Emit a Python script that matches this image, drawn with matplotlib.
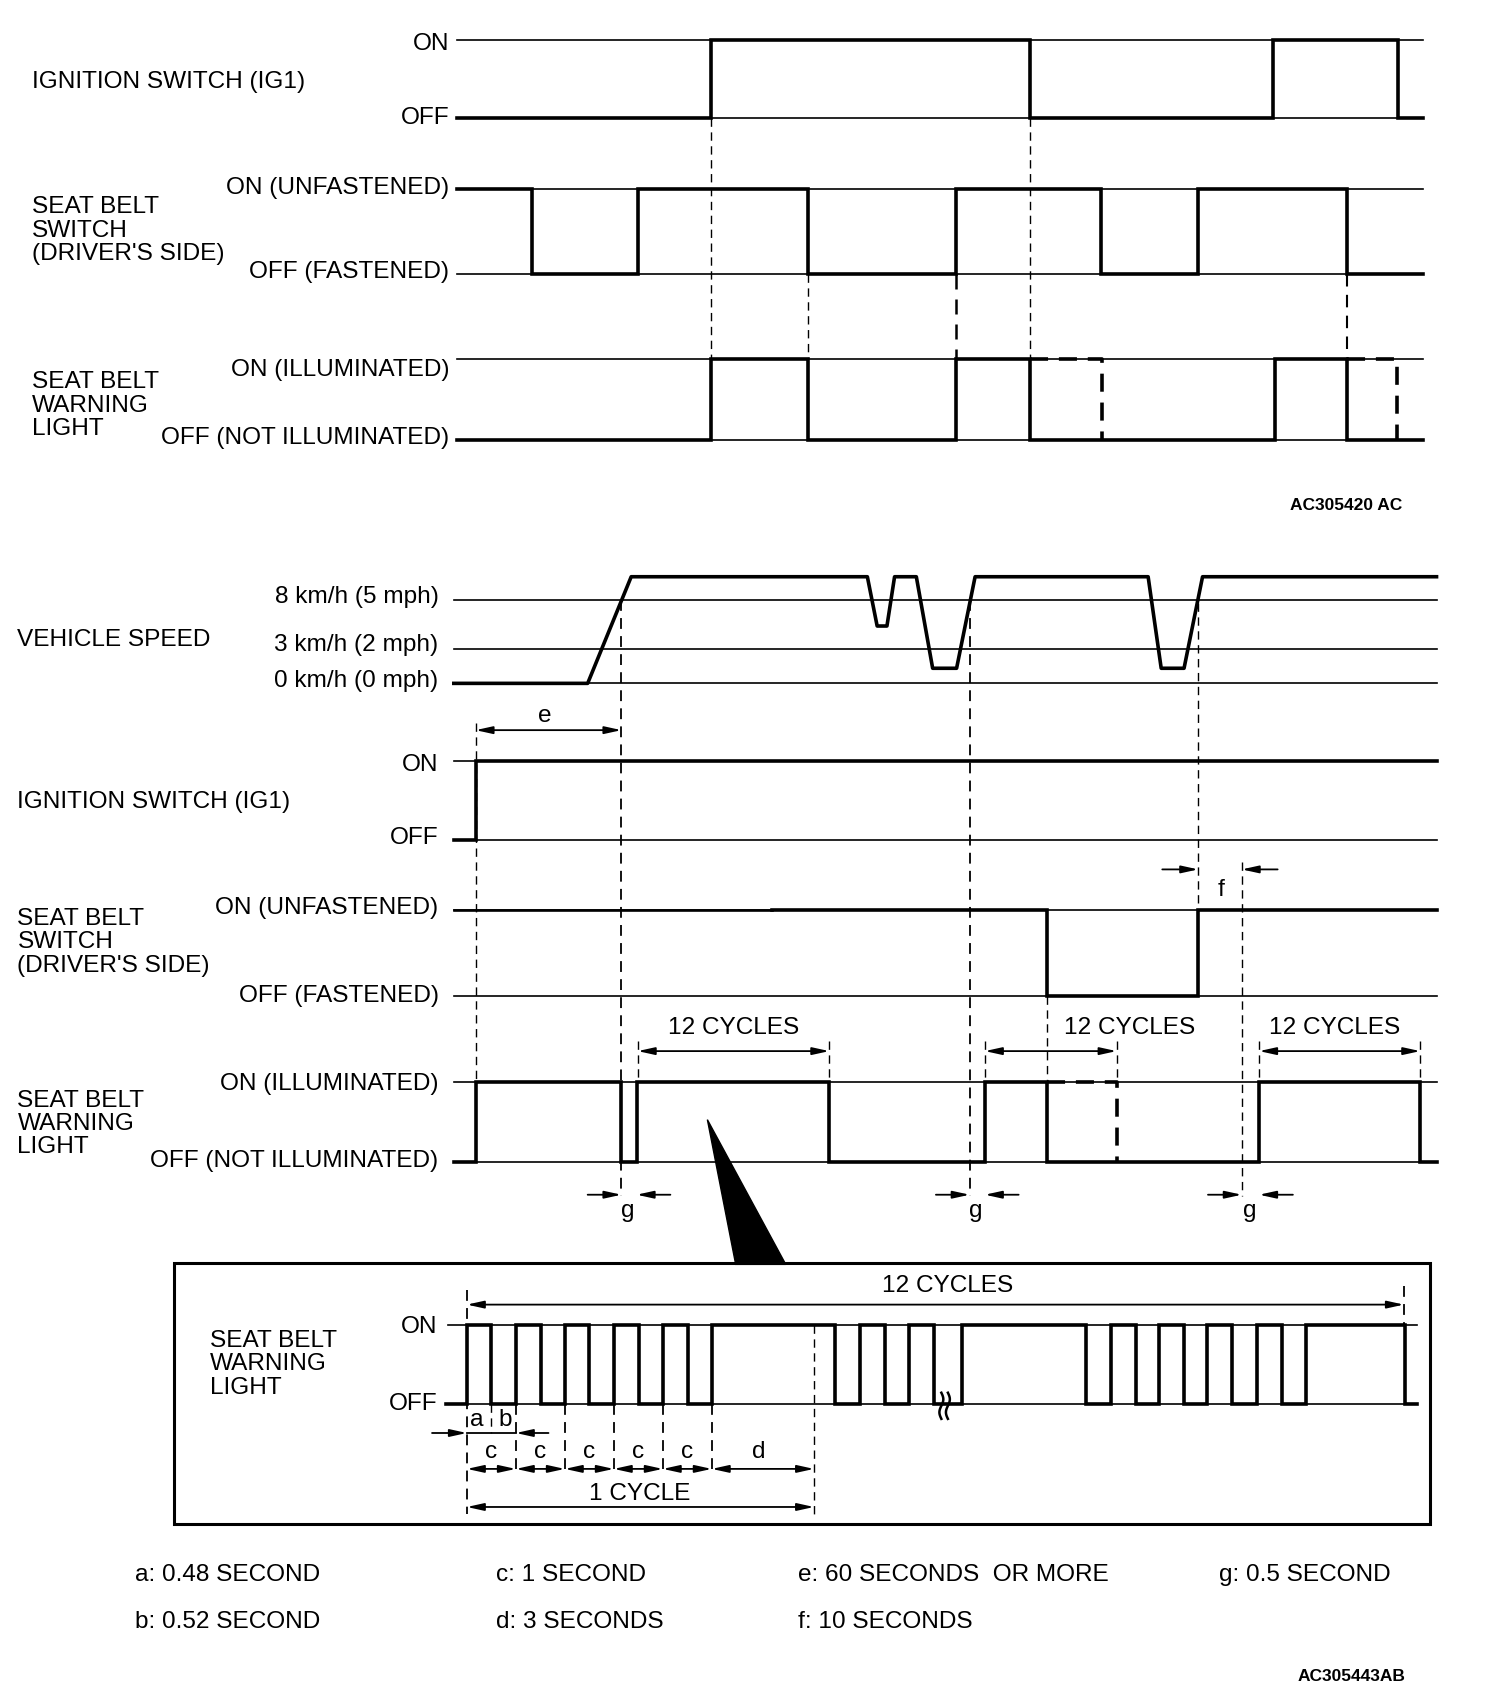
import numpy as np
import matplotlib.pyplot as plt
from matplotlib.patches import Polygon, Rectangle

# ---- data: transition times (drawing units along the time axis) and states (1 = ON)
# upper diagram
top_ign_t = [420, 653, 946, 1170, 1285, 1308]
top_ign_s = [0, 1, 0, 1, 0]
top_belt_t = [420, 489, 586, 742, 878, 1012, 1101, 1238, 1308]
top_belt_s = [1, 0, 1, 0, 1, 0, 1, 0]
top_lamp_t = [420, 653, 742, 878, 946, 1172, 1238, 1308]
top_lamp_s = [0, 1, 0, 1, 0, 1, 0]
top_lamp_dashed = [(946, 1013), (1238, 1284)]

# lower diagram
speed_t = [417, 540, 580, 797, 806, 815, 822, 842, 857, 879, 896, 1055, 1067, 1088, 1105, 1320]
speed_kmh = [0, 0, 10.3, 10.3, 5.3, 5.3, 10.3, 10.3, 1.3, 1.3, 10.3, 10.3, 1.3, 1.3, 10.3, 10.3]
speed_ticks = [0, 3, 8, 10.3]
bot_ign_t = [417, 437, 1320]
bot_ign_s = [0, 1]
bot_belt_t = [709, 962, 1101, 1320]
bot_belt_s = [1, 0, 1]
bot_lamp_t = [417, 437, 571, 585, 762, 905, 962, 1157, 1305, 1320]
bot_lamp_s = [0, 1, 0, 1, 0, 1, 0, 1, 0]
bot_lamp_dashed = [(962, 1026)]
cycles12 = [(586, 762), (905, 1026), (1157, 1305)]
cycles12_label_x = [674, 1038, 1226]
g_marks = [(571, 585), (891, 905), (1141, 1157)]

# enlarged pulse train
inset_t = [410, 429, 451, 474, 497, 519, 541, 564, 587, 609, 632, 654, 767, 790, 813, 835,
           858, 884, 998, 1021, 1044, 1065, 1088, 1109, 1132, 1155, 1178, 1200, 1291, 1302]
inset_s = [0] + [1, 0] * 14
inset_break = 868
c_marks = [429, 474, 519, 564, 609, 654]
d_end = 748

legend_items = [("a: 0.48 SECOND", "b: 0.52 SECOND"),
                ("c: 1 SECOND", "d: 3 SECONDS"),
                ("e: 60 SECONDS  OR MORE", "f: 10 SECONDS"),
                ("g: 0.5 SECOND", None)]

plt.rcParams['font.family'] = ['Liberation Sans', 'DejaVu Sans']
FS = 17.6

fig = plt.figure(figsize=(15.04, 17.06), dpi=100)
ax = fig.add_axes([0, 0, 1, 1])
ax.set_xlim(0, 1382)
ax.set_ylim(1568, 0)
ax.axis('off')

THICK = 2.6
THIN = 1.2


def step(ts, states, y_off, y_on, lw=THICK, **kw):
    xs, ys = [], []
    for i, s in enumerate(states):
        y = y_on if s else y_off
        xs += [ts[i], ts[i + 1]]
        ys += [y, y]
    ax.plot(xs, ys, color='k', lw=lw, solid_joinstyle='miter', **kw)


def ref(x0, x1, y, lw=THIN):
    ax.plot([x0, x1], [y, y], color='k', lw=lw)


def vdash(x, y0, y1, lw=1.0, dash=(6, 4)):
    ax.plot([x, x], [y0, y1], color='k', lw=lw, dashes=dash)


def dim(x0, x1, y, style='<|-|>'):
    ax.annotate('', xy=(x1, y), xytext=(x0, y),
                arrowprops=dict(arrowstyle=style + ',head_length=1.0,head_width=0.22',
                                color='k', lw=1.3, shrinkA=0, shrinkB=0))


def inward(xa, xb, y, out=30):
    dim(xa - out, xa, y, '-|>')
    dim(xb + out, xb, y, '-|>')


def label(x, y, s, ha='right', **kw):
    ax.text(x, y, s, ha=ha, va='center', fontsize=FS, **kw)


def break_mark(x, y):
    # two short wavy strokes marking a time break
    u = np.linspace(0, 1, 30)
    for dx in (-3, 3):
        ax.plot(x + dx + 1.8 * np.sin(u * 2 * np.pi), y - 12 + 24 * u, color='k', lw=1.8)


# ---------------- upper diagram ----------------
levels = [(38, 109), (175, 253), (331, 405)]
for on, off in levels:
    ref(420, 1308, on)
    ref(420, 1308, off)
step(top_ign_t, top_ign_s, 109, 38)
step(top_belt_t, top_belt_s, 253, 175)
step(top_lamp_t, top_lamp_s, 405, 331)
for x0, x1 in top_lamp_dashed:
    ax.plot([x0, x1, x1], [331, 331, 405], color='k', lw=THICK, dashes=(5, 3))
vdash(653, 109, 331)
vdash(742, 253, 331)
vdash(878, 253, 331, lw=1.8)
vdash(946, 109, 331)
vdash(1238, 253, 331, lw=1.5)

label(413, 40, "ON")
label(413, 108, "OFF")
label(29, 75, "IGNITION SWITCH (IG1)", ha='left')
label(413, 173, "ON (UNFASTENED)")
label(413, 250, "OFF (FASTENED)")
label(29, 212, "SEAT BELT\nSWITCH\n(DRIVER'S SIDE)", ha='left', linespacing=1.08)
label(413, 340, "ON (ILLUMINATED)")
label(413, 403, "OFF (NOT ILLUMINATED)")
label(29, 373, "SEAT BELT\nWARNING\nLIGHT", ha='left', linespacing=1.08)
ax.text(1237, 465, "AC305420 AC", ha='center', va='center', fontsize=12.5, fontweight='bold')

# ---------------- lower diagram ----------------
speed_y = [629, 597, 552, 531]
for y in speed_y[:3]:
    ref(417, 1320, y)
ax.plot(speed_t, np.interp(speed_kmh, speed_ticks, speed_y), color='k', lw=THICK)
label(403, 549, "8 km/h (5 mph)")
label(403, 593, "3 km/h (2 mph)")
label(403, 626, "0 km/h (0 mph)")
label(16, 588, "VEHICLE SPEED", ha='left')

for on, off in [(700, 773), (837, 916), (995, 1069)]:
    ref(417, 1320, on)
    ref(417, 1320, off)
step(bot_ign_t, bot_ign_s, 773, 700)
ref(417, 709, 837, lw=1.9)
step(bot_belt_t, bot_belt_s, 916, 837)
step(bot_lamp_t, bot_lamp_s, 1069, 995)
for x0, x1 in bot_lamp_dashed:
    ax.plot([x0, x1, x1], [995, 995, 1069], color='k', lw=THICK, dashes=(5, 3))

label(403, 703, "ON")
label(403, 770, "OFF")
label(16, 737, "IGNITION SWITCH (IG1)", ha='left')
label(403, 835, "ON (UNFASTENED)")
label(403, 915, "OFF (FASTENED)")
label(16, 866, "SEAT BELT\nSWITCH\n(DRIVER'S SIDE)", ha='left', linespacing=1.08)
label(403, 996, "ON (ILLUMINATED)")
label(403, 1067, "OFF (NOT ILLUMINATED)")
label(16, 1033, "SEAT BELT\nWARNING\nLIGHT", ha='left', linespacing=1.08)

# guide lines
vdash(437, 665, 995)
vdash(571, 552, 1100, lw=1.3)
vdash(891, 552, 1100, lw=1.3)
vdash(1101, 555, 837)
vdash(1141, 793, 1100)
vdash(962, 916, 995)

# e
dim(437, 571, 672)
label(501, 658, "e", ha='center')
# f
inward(1101, 1141, 800, out=33)
label(1122, 818, "f", ha='center')
# g
for xa, xb in g_marks:
    inward(xa, xb, 1099, out=31)
    label((xa + xb) / 2 - 1, 1113, "g", ha='center')
# 12 cycles
for (x0, x1), lx in zip(cycles12, cycles12_label_x):
    vdash(x0, 958, 995)
    vdash(x1, 958, 995)
    dim(x0, x1, 967)
    label(lx, 945, "12 CYCLES", ha='center')

# callout wedge
ax.add_patch(Polygon([(650, 1030), (676, 1163), (722, 1163)], closed=True, color='k'))

# ---------------- enlarged view ----------------
ax.add_patch(Rectangle((160, 1162), 1154, 240, fill=False, lw=2.2, ec='k'))
ref(412, 1302, 1219)
ref(412, 1302, 1291)
step(inset_t, inset_s, 1291, 1219)
break_mark(inset_break, 1293)
label(402, 1220, "ON")
label(402, 1290, "OFF")
label(193, 1254, "SEAT BELT\nWARNING\nLIGHT", ha='left', linespacing=1.08)

vdash(429, 1187, 1392, lw=1.3)
vdash(1290, 1183, 1219, lw=1.3)
vdash(d_end, 1219, 1392, lw=1.0)
vdash(451, 1291, 1318, lw=1.0)
for x in c_marks[1:]:
    vdash(x, 1291, 1355, lw=1.3)
dim(429, 1290, 1200)
label(871, 1182, "12 CYCLES", ha='center')

# a / b
dim(397, 429, 1318, '-|>')
dim(504, 474, 1318, '-|>')
ax.plot([429, 474], [1318, 1318], color='k', lw=1.3)
label(438, 1305, "a", ha='center')
label(464, 1305, "b", ha='center')
# c / d
for x0, x1 in zip(c_marks[:-1], c_marks[1:]):
    dim(x0, x1, 1351)
    label((x0 + x1) / 2, 1335, "c", ha='center')
dim(c_marks[-1], d_end, 1351)
label(697, 1335, "d", ha='center')
# 1 cycle
dim(429, d_end, 1386)
label(588, 1373, "1 CYCLE", ha='center')

# ---------------- legend ----------------
legend_x = [124, 456, 733, 1120]
for x, (top, bottom) in zip(legend_x, legend_items):
    label(x, 1448, top, ha='left')
    if bottom:
        label(x, 1491, bottom, ha='left')
ax.text(1242, 1541, "AC305443AB", ha='center', va='center', fontsize=12.5, fontweight='bold')

fig.savefig('out.png', dpi=100, facecolor='white')
